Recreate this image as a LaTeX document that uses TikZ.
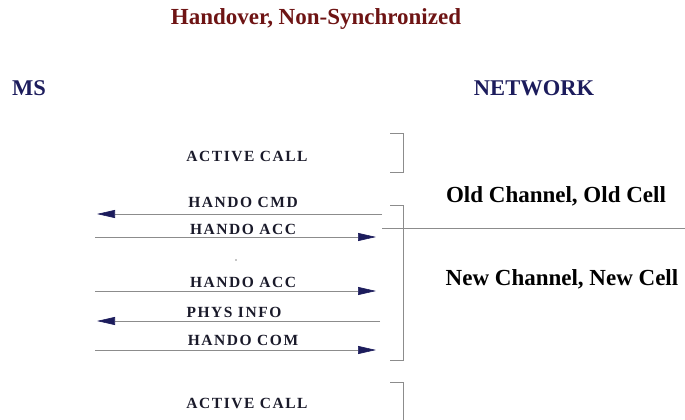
\documentclass[tikz,border=0pt]{standalone}
\usepackage{fontspec}
\setmainfont{Liberation Serif}
\newfontfamily\msgfont[LetterSpace=10]{Liberation Serif}
\usetikzlibrary{arrows.meta,positioning}
\definecolor{titlered}{HTML}{6E1414}
\definecolor{navy}{HTML}{1C1C5C}
\definecolor{wire}{HTML}{8C8C8C}
\definecolor{ink}{HTML}{1A1A2A}

\begin{document}
\begin{tikzpicture}[x=1pt,y=-1pt,
  msg/.style={font=\msgfont\bfseries\fontsize{15.5}{15.5}\selectfont,ink,inner sep=0pt},
  cell/.style={font=\bfseries\fontsize{23}{23}\selectfont,black,inner sep=0pt},
  side/.style={font=\bfseries\fontsize{22.5}{22.5}\selectfont,navy,inner sep=0pt},
  sig/.style={wire,line width=0.6pt,-{Triangle[length=18pt,width=8pt,color=navy]}},
  brk/.style={wire,line width=0.8pt}]
  \useasboundingbox (0,0) rectangle (685,420);
  \node[font=\bfseries\fontsize{23}{23}\selectfont,titlered,inner sep=0pt] (title) at (316,19) {Handover, Non-Synchronized};
  \node[side] (ms) at (29,88) {MS};
  \node[side] (net) at (534,88) {NETWORK};
  % old cell part
  \node[msg] (call1) at (247,156) {ACTIVE CALL};
  \draw[brk] (390,133) -- (403,133) -- (403,172) -- (390,172);
  \node[msg] (cmd) at (243,202) {HANDO CMD};
  \coordinate (ms1) at (97,214); \coordinate (nw1) at (382,214);
  \draw[sig] (nw1) -- (ms1);
  \node[msg] (acc1) at (243,229) {HANDO ACC};
  \coordinate (ms2) at (95,237); \coordinate (nw2) at (376,237);
  \draw[sig] (ms2) -- (nw2);
  \node[cell] (old) at (556,196) {Old Channel, Old Cell};
  \draw[brk] (382,228) -- (685,228);
  \draw[brk] (390,205) -- (403,205) -- (403,360) -- (390,360);
  \fill[wire] (236,260) circle (0.8);
  % new cell part
  \node[msg] (acc2) at (243,282) {HANDO ACC};
  \coordinate (ms3) at (95,291); \coordinate (nw3) at (376,291);
  \draw[sig] (ms3) -- (nw3);
  \node[msg] (phys) at (234,312) {PHYS INFO};
  \coordinate (ms4) at (97,321); \coordinate (nw4) at (380,321);
  \draw[sig] (nw4) -- (ms4);
  \node[msg] (com) at (243,340) {HANDO COM};
  \coordinate (ms5) at (95,350); \coordinate (nw5) at (376,350);
  \draw[sig] (ms5) -- (nw5);
  \node[cell] (new) at (562,279) {New Channel, New Cell};
  \node[msg] (call2) at (247,403) {ACTIVE CALL};
  \draw[brk] (390,382) -- (403,382) -- (403,420);
\end{tikzpicture}
\end{document}
